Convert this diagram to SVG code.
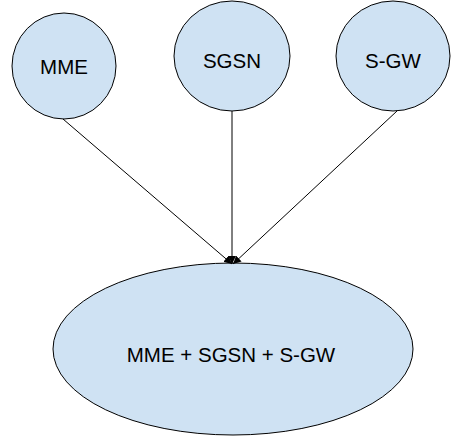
<svg xmlns="http://www.w3.org/2000/svg" width="451" height="445" viewBox="0 0 451 445">
<style>
.node{fill:#cfe2f3;stroke:#000;stroke-width:1}
.lbl{font-family:"Liberation Sans",Arial,sans-serif;font-size:20.5px;fill:#000;text-anchor:middle;dominant-baseline:central}
.edge{stroke:#000;stroke-width:1;fill:none}
</style>
<defs>
<marker id="ah" viewBox="0 0 10 10" refX="10" refY="5" markerWidth="8" markerHeight="8" markerUnits="userSpaceOnUse" orient="auto">
<path d="M0,0 L10,5 L0,10 z" fill="#000"/>
</marker>
</defs>
<g id="mme"><ellipse class="node" cx="64" cy="66" rx="52" ry="53"/><text class="lbl" x="64" y="66">MME</text></g>
<g id="sgsn"><ellipse class="node" cx="232" cy="56" rx="58" ry="55"/><text class="lbl" x="232" y="60">SGSN</text></g>
<g id="sgw"><ellipse class="node" cx="393" cy="56" rx="57" ry="55"/><text class="lbl" x="393" y="60">S-GW</text></g>
<g id="combined"><ellipse class="node" cx="233" cy="349" rx="180" ry="86"/><text class="lbl" x="231" y="354">MME + SGSN + S-GW</text></g>
<g id="connectors">
<line class="edge" x1="63" y1="119" x2="232" y2="264" marker-end="url(#ah)"/>
<line class="edge" x1="232" y1="111" x2="232" y2="264" stroke-width="2" marker-end="url(#ah)"/>
<line class="edge" x1="397" y1="111" x2="233" y2="264" marker-end="url(#ah)"/>
</g>
</svg>
